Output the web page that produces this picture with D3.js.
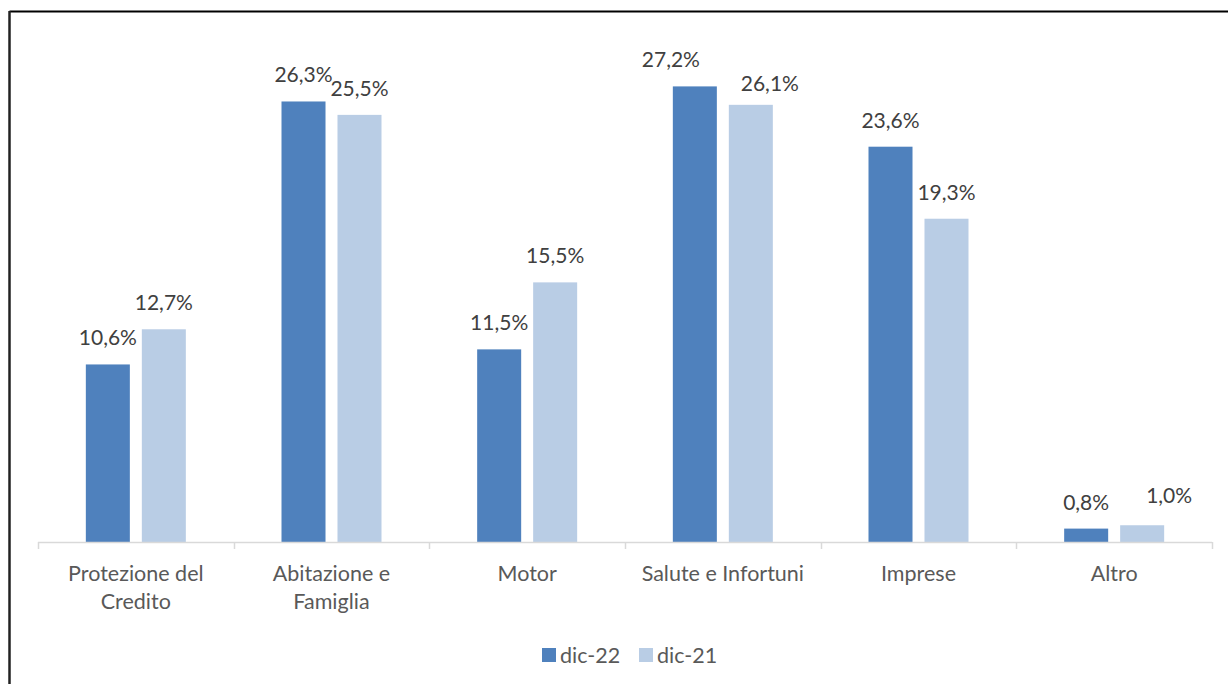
<!DOCTYPE html>
<html>
<head>
    <title>Distribuzione per linea di business</title>
    <script src="https://d3js.org/d3.v7.min.js"></script>
    <style>
        body { margin: 0; background: #fff; }
        svg { display: block; font-family: Lato, "Open Sans", sans-serif; }
    </style>
</head>
<body>
    <svg id="chart" width="1228" height="684"></svg>
    <script>
        // data
        const categories = [["Protezione del", "Credito"], ["Abitazione e", "Famiglia"], ["Motor"],
                            ["Salute e Infortuni"], ["Imprese"], ["Altro"]];
        const seriesNames = ["dic-22", "dic-21"];
        const dic22 = [10.6, 26.3, 11.5, 27.2, 23.6, 0.8];
        const dic21 = [12.7, 25.5, 15.5, 26.1, 19.3, 1.0];
        const colors = ["#4f81bd", "#b9cde5"];

        // label nudges (px) where the original moved labels apart: [dx, dy] per series
        const nudge = {
            "3-0": [-24, 0], "3-1": [19, 5],
            "5-1": [27, -3]
        };

        const width = 1228, height = 684;
        const svg = d3.select("#chart");

        // frame (only top and left edges visible)
        svg.append("line").attr("x1", 9.5).attr("x2", width).attr("y1", 11.5).attr("y2", 11.5)
            .attr("stroke", "#000").attr("stroke-width", 2);
        svg.append("line").attr("x1", 9.5).attr("x2", 9.5).attr("y1", 11).attr("y2", height)
            .attr("stroke", "#222").attr("stroke-width", 2.5);

        const x0 = d3.scaleBand().domain(d3.range(categories.length)).range([38, 1212]);
        const bw = x0.bandwidth();
        const x1 = d3.scaleBand().domain([0, 1]).range([bw / 2 - 50, bw / 2 + 50]).paddingInner(0.214);
        const y = d3.scaleLinear().domain([0, 30]).range([542, 39.5]);

        const groups = svg.selectAll("g.cat").data(categories).enter().append("g")
            .attr("transform", (d, i) => `translate(${x0(i)},0)`);

        groups.each(function(d, i) {
            const vals = [dic22[i], dic21[i]];
            const g = d3.select(this);
            g.selectAll("rect").data(vals).enter().append("rect")
                .attr("x", (v, j) => x1(j))
                .attr("width", x1.bandwidth())
                .attr("y", v => y(v))
                .attr("height", v => y(0) - y(v))
                .attr("fill", (v, j) => colors[j]);
            g.selectAll("text.val").data(vals).enter().append("text")
                .attr("class", "val")
                .attr("x", (v, j) => x1(j) + x1.bandwidth() / 2 + (nudge[i + "-" + j] || [0, 0])[0])
                .attr("y", (v, j) => y(v) - 19 + (nudge[i + "-" + j] || [0, 0])[1])
                .attr("text-anchor", "middle")
                .attr("font-size", 21)
                .attr("fill", "#404040")
                .text(v => v.toFixed(1).replace(".", ",") + "%");
        });

        // category axis
        const axisY = 542;
        svg.append("line").attr("x1", 38).attr("x2", 1212).attr("y1", axisY + 0.5).attr("y2", axisY + 0.5)
            .attr("stroke", "#d9d9d9").attr("stroke-width", 1.5);
        const tickPos = d3.range(categories.length + 1).map(i => i < categories.length ? x0(i) : x0(i - 1) + bw);
        svg.selectAll("line.tick").data(tickPos).enter().append("line")
            .attr("x1", d => Math.round(d) + 0.5).attr("x2", d => Math.round(d) + 0.5)
            .attr("y1", axisY).attr("y2", axisY + 7)
            .attr("stroke", "#d9d9d9").attr("stroke-width", 1.5);

        groups.each(function(d, i) {
            const t = d3.select(this).append("text")
                .attr("text-anchor", "middle")
                .attr("font-size", 21.5)
                .attr("fill", "#595959");
            d.forEach((line, k) => {
                t.append("tspan").attr("x", bw / 2).attr("y", 581 + k * 28).text(line);
            });
        });

        // legend
        const legend = svg.append("g").attr("transform", "translate(542,648)");
        const items = legend.selectAll("g").data(seriesNames).enter().append("g")
            .attr("transform", (d, i) => `translate(${i * 97},0)`);
        items.append("rect").attr("width", 14).attr("height", 14).attr("fill", (d, i) => colors[i]);
        items.append("text").attr("x", 18).attr("y", 15).attr("font-size", 21.5).attr("fill", "#595959").text(d => d);
    </script>
</body>
</html>
